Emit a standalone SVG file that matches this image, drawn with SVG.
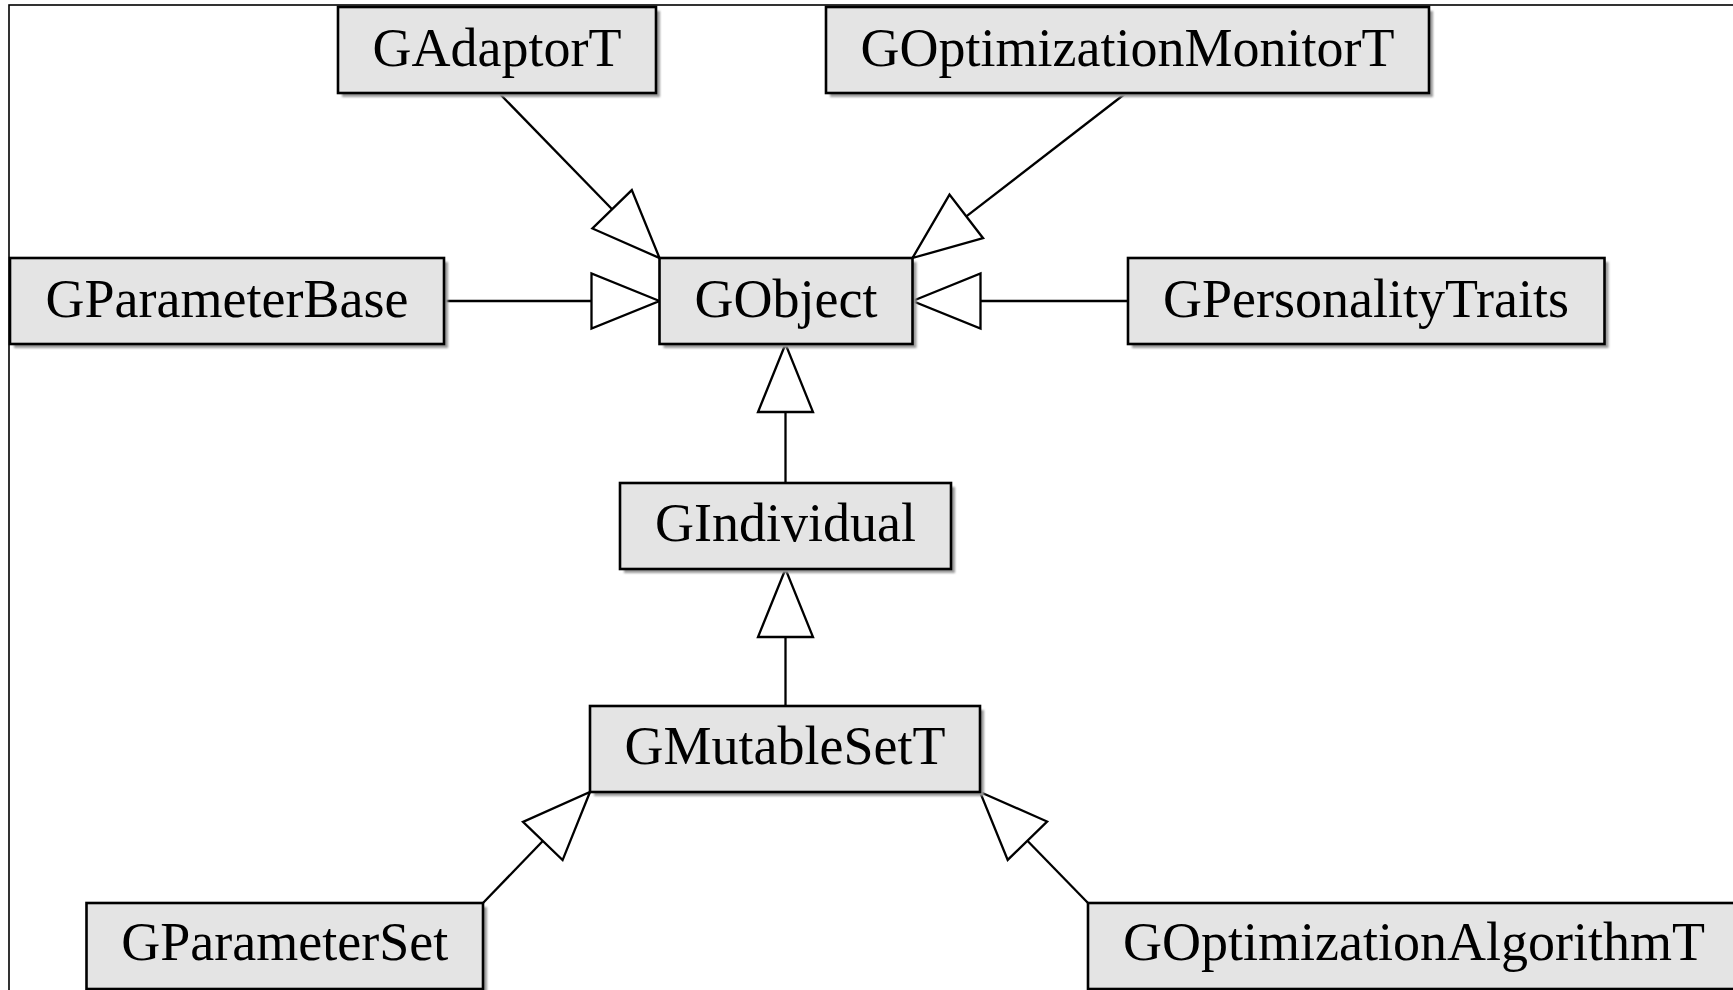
<svg xmlns="http://www.w3.org/2000/svg" width="1733" height="990" viewBox="0 0 1733 990">
<defs>
<style>
.box{fill:#e4e4e4;stroke:#000;stroke-width:2.6}
.sh{fill:#9a9a9a;filter:url(#blur)}
.lbl{font-family:"Liberation Serif","Times New Roman",serif;font-size:54px;fill:#000;text-anchor:middle}
.ln{stroke:#000;stroke-width:2.3;fill:none}
.tri{fill:#fff;stroke:#000;stroke-width:2.3;stroke-linejoin:miter}
</style>
<filter id="blur" x="-5%" y="-5%" width="110%" height="120%"><feGaussianBlur stdDeviation="1.2"/></filter>
</defs>
<rect width="1733" height="990" fill="#fff"/>
<rect x="9" y="5" width="1740" height="1000" fill="none" stroke="#000" stroke-width="1.6"/>

<g id="connectors">
<line class="ln" x1="499" y1="93" x2="612.1" y2="209.3"/>
<polygon class="tri" points="659.5,258 631.8,190.1 592.4,228.5"/>
<line class="ln" x1="1126" y1="93" x2="966.3" y2="216.4"/>
<polygon class="tri" points="912.5,258 983.1,238.2 949.5,194.6"/>
<line class="ln" x1="444" y1="301" x2="591.5" y2="301"/>
<polygon class="tri" points="659.5,301 591.5,273.5 591.5,328.5"/>
<line class="ln" x1="1128" y1="301" x2="980.5" y2="301"/>
<polygon class="tri" points="912.5,301 980.5,273.5 980.5,328.5"/>
<line class="ln" x1="785.5" y1="483" x2="785.5" y2="412"/>
<polygon class="tri" points="785.5,344 758,412 813,412"/>
<line class="ln" x1="785.5" y1="706" x2="785.5" y2="637"/>
<polygon class="tri" points="785.5,569 758,637 813,637"/>
<line class="ln" x1="483" y1="903" x2="542.8" y2="841"/>
<polygon class="tri" points="590,792 562.6,860.1 523,821.9"/>
<line class="ln" x1="1088" y1="903" x2="1027.4" y2="840.7"/>
<polygon class="tri" points="980,792 1047.1,821.5 1007.7,859.9"/>
</g>

<g id="GAdaptorT">
<rect class="sh" x="342" y="11" width="318" height="86"/>
<rect class="box" x="338" y="7" width="318" height="86"/>
<text class="lbl" x="497" y="66">GAdaptorT</text>
</g>
<g id="GOptimizationMonitorT">
<rect class="sh" x="830" y="11" width="603" height="86"/>
<rect class="box" x="826" y="7" width="603" height="86"/>
<text class="lbl" x="1127.5" y="66">GOptimizationMonitorT</text>
</g>
<g id="GParameterBase">
<rect class="sh" x="14" y="262" width="434" height="86"/>
<rect class="box" x="10" y="258" width="434" height="86"/>
<text class="lbl" x="227" y="317">GParameterBase</text>
</g>
<g id="GObject">
<rect class="sh" x="663.5" y="262" width="253" height="86"/>
<rect class="box" x="659.5" y="258" width="253" height="86"/>
<text class="lbl" x="786" y="317">GObject</text>
</g>
<g id="GPersonalityTraits">
<rect class="sh" x="1132" y="262" width="476.5" height="86"/>
<rect class="box" x="1128" y="258" width="476.5" height="86"/>
<text class="lbl" x="1366" y="317">GPersonalityTraits</text>
</g>
<g id="GIndividual">
<rect class="sh" x="624" y="487" width="331" height="86"/>
<rect class="box" x="620" y="483" width="331" height="86"/>
<text class="lbl" x="785.5" y="541">GIndividual</text>
</g>
<g id="GMutableSetT">
<rect class="sh" x="594" y="710" width="390" height="86"/>
<rect class="box" x="590" y="706" width="390" height="86"/>
<text class="lbl" x="785" y="764">GMutableSetT</text>
</g>
<g id="GParameterSet">
<rect class="sh" x="90.5" y="907" width="396.5" height="86"/>
<rect class="box" x="86.5" y="903" width="396.5" height="86"/>
<text class="lbl" x="284.75" y="960">GParameterSet</text>
</g>
<g id="GOptimizationAlgorithmT">
<rect class="sh" x="1092" y="907" width="660" height="86"/>
<rect class="box" x="1088" y="903" width="660" height="86"/>
<text class="lbl" x="1414" y="960">GOptimizationAlgorithmT</text>
</g>
</svg>
